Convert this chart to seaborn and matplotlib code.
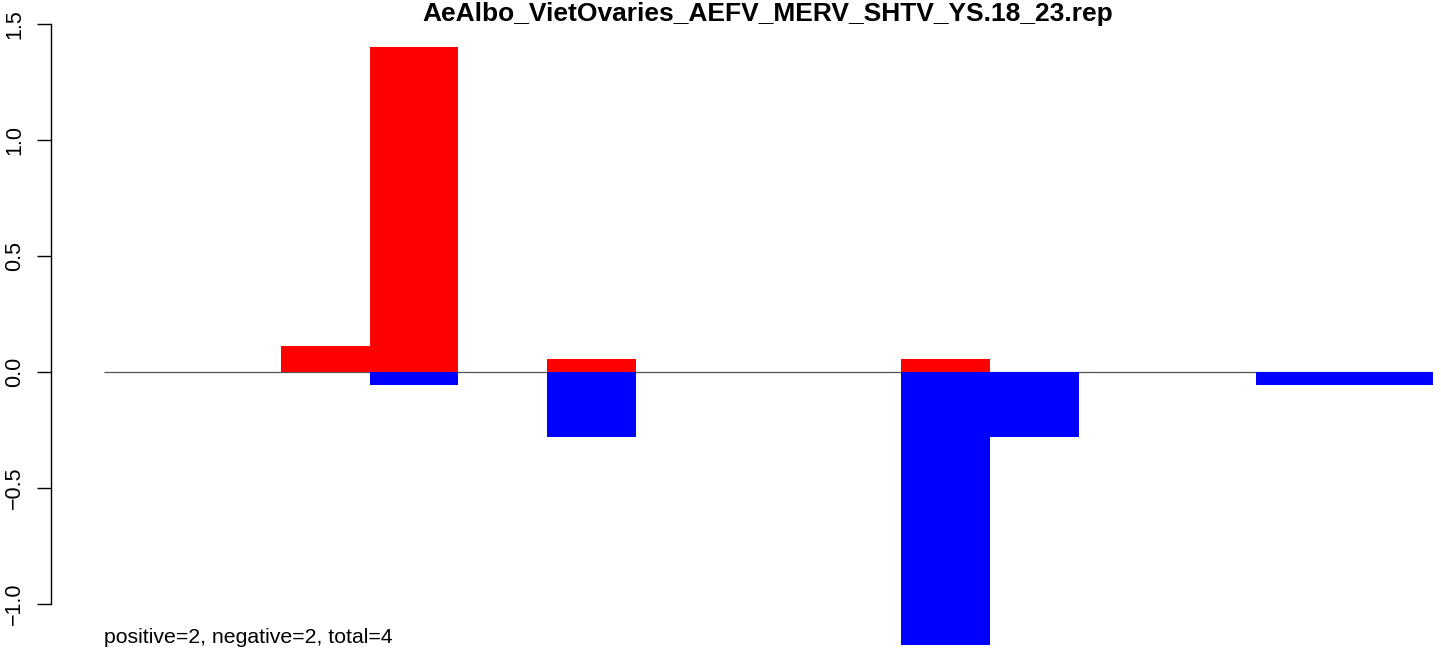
import matplotlib
matplotlib.use("Agg")
import matplotlib.pyplot as plt
import seaborn as sns
import pandas as pd

# ---- data ----
categories = [str(i) for i in range(1, 16)]
positive = [0, 0, 0.112, 1.402, 0, 0.056, 0, 0, 0, 0.056, 0, 0, 0, 0, 0]
negative = [0, 0, 0, -0.056, 0, -0.280, 0, 0, 0, -1.178, -0.280, 0, 0, -0.056, -0.056]
yticks = [-1.0, -0.5, 0.0, 0.5, 1.0, 1.5]
title = "AeAlbo_VietOvaries_AEFV_MERV_SHTV_YS.18_23.rep"
note = "positive=2, negative=2, total=4"

sns.set_theme(style="white")
plt.rcParams['font.family'] = ['Liberation Sans', 'DejaVu Sans']
plt.rcParams['text.color'] = 'black'
plt.rcParams['ytick.color'] = 'black'
plt.rcParams['ytick.labelcolor'] = 'black'

W, H = 1441, 649
fig = plt.figure(figsize=(W / 100, H / 100), dpi=100)
ax = fig.add_axes([51 / W, 0, (1433 - 51) / W, 1])

df = pd.DataFrame({"cat": categories, "pos": positive, "neg": negative})
sns.barplot(data=df, x="cat", y="pos", order=categories, color="#ff0000",
            saturation=1, width=1.0, linewidth=0, ax=ax, zorder=2)
sns.barplot(data=df, x="cat", y="neg", order=categories, color="#0000ff",
            saturation=1, width=1.0, linewidth=0, ax=ax, zorder=2)

ax.hlines(0, -0.5, len(categories) - 0.5, color="#555555", lw=0.9, zorder=1)

ax.set_xlim(-0.5 - 53 / 88.6, len(categories) - 0.5)
ax.set_ylim(-277 / 231.7, 372 / 231.7)

for s in ["top", "right", "bottom"]:
    ax.spines[s].set_visible(False)
ax.spines["left"].set_bounds(-1.0, 1.5)
ax.spines["left"].set_color("black")
ax.spines["left"].set_linewidth(1.0)
ax.set_xticks([])
ax.set_xlabel("")
ax.set_ylabel("")
ax.set_yticks(yticks)
ax.set_yticklabels([f"{v:.1f}".replace("-", "\u2212") for v in yticks],
                   rotation=90, va="center", fontsize=15.5, color="black")
ax.tick_params(axis="y", left=True, length=10, width=1.0, color="black",
               labelcolor="black", pad=8.5, direction="out")
ax.set_facecolor("white")

fig.text(768 / W, 1 - 20.5 / H, title, ha="center", va="baseline",
         fontsize=19, fontweight="bold", color="black")
fig.text(103.5 / W, 1 - 643 / H, note, ha="left", va="baseline",
         fontsize=15.3, color="black")

fig.savefig("out.png", dpi=100, facecolor="white")
